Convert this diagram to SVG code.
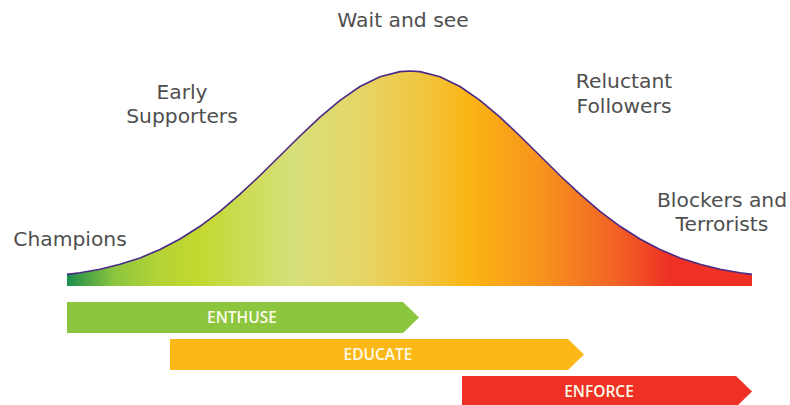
<svg xmlns="http://www.w3.org/2000/svg" width="790" height="405" viewBox="0 0 790 405">
<style>
.lbl{font-family:"DejaVu Sans","Open Sans",sans-serif;font-size:20.3px;fill:#4f4f4f;text-anchor:middle}
.al{font-family:"Open Sans","Liberation Sans",sans-serif;font-size:15.5px;fill:#fdfbe8;text-anchor:middle;font-weight:600}
</style>
<defs>
<linearGradient id="bellGrad" gradientUnits="userSpaceOnUse" x1="67" y1="0" x2="752" y2="0">
<stop offset="0" stop-color="#1a8f50"/>
<stop offset="0.03" stop-color="#4ea545"/>
<stop offset="0.07" stop-color="#8cc63f"/>
<stop offset="0.13" stop-color="#b3d336"/>
<stop offset="0.19" stop-color="#c2d82f"/>
<stop offset="0.33" stop-color="#d6e07a"/>
<stop offset="0.43" stop-color="#e6d566"/>
<stop offset="0.52" stop-color="#f1c540"/>
<stop offset="0.585" stop-color="#fbb614"/>
<stop offset="0.70" stop-color="#f6901e"/>
<stop offset="0.80" stop-color="#f26325"/>
<stop offset="0.88" stop-color="#ee3124"/>
<stop offset="1" stop-color="#ee3124"/>
</linearGradient>
</defs>
<g id="bell">
<path fill="url(#bellGrad)" d="M67,286 L67,274.4 L80,272.7 L100,269.2 L120,264.3 L140,257.9 L160,249.5 L180,239.0 L200,226.3 L220,211.3 L240,194.2 L260,175.5 L280,155.8 L300,136.0 L320,117.1 L340,100.3 L360,86.5 L380,76.7 L400,71.6 L410,71 L420,71.6 L440,76.7 L460,86.5 L480,100.3 L500,117.1 L520,136.0 L540,155.8 L560,175.5 L580,194.2 L600,211.3 L620,226.3 L640,239.0 L660,249.5 L680,257.9 L700,264.3 L720,269.2 L740,272.7 L752,274.4 L752,286 Z"/>
<path fill="none" stroke="#4a2a84" stroke-width="1.6" stroke-linejoin="round" d="M67,274.4 L80,272.7 L100,269.2 L120,264.3 L140,257.9 L160,249.5 L180,239.0 L200,226.3 L220,211.3 L240,194.2 L260,175.5 L280,155.8 L300,136.0 L320,117.1 L340,100.3 L360,86.5 L380,76.7 L400,71.6 L410,71 L420,71.6 L440,76.7 L460,86.5 L480,100.3 L500,117.1 L520,136.0 L540,155.8 L560,175.5 L580,194.2 L600,211.3 L620,226.3 L640,239.0 L660,249.5 L680,257.9 L700,264.3 L720,269.2 L740,272.7 L752,274.4"/>
</g>
<g id="labels">
<text class="lbl" x="403" y="27">Wait and see</text>
<text class="lbl" x="182" y="99"><tspan x="182">Early</tspan><tspan x="182" dy="24">Supporters</tspan></text>
<text class="lbl" x="70" y="246">Champions</text>
<text class="lbl" x="624" y="88"><tspan x="624">Reluctant</tspan><tspan x="624" dy="24.5">Followers</tspan></text>
<text class="lbl" x="722" y="207"><tspan x="722">Blockers and</tspan><tspan x="722" dy="24">Terrorists</tspan></text>
</g>
<g id="enthuse">
<polygon fill="#8cc63f" points="67,302 403,302 419,317.5 403,333 67,333"/>
<text class="al" x="242" y="323">ENTHUSE</text>
</g>
<g id="educate">
<polygon fill="#fbb817" points="170,339 568,339 584,354.5 568,370 170,370"/>
<text class="al" x="378" y="360">EDUCATE</text>
</g>
<g id="enforce">
<polygon fill="#ee3124" points="462,376 736,376 752,391.5 736,407 462,407"/>
<text class="al" x="599" y="397">ENFORCE</text>
</g>
</svg>
